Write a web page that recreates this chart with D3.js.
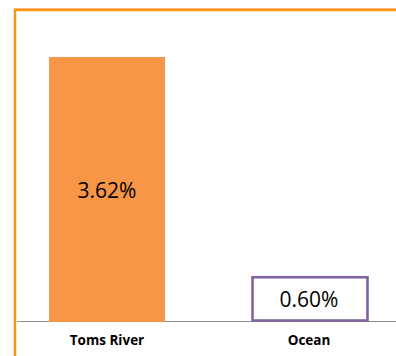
<!DOCTYPE html>
<html>
<head>
<meta charset="utf-8">
<script src="https://cdn.jsdelivr.net/npm/d3@7"></script>
<style>
  html, body { margin: 0; padding: 0; background: #fff; }
  svg { display: block; }
</style>
</head>
<body>
<svg id="chart" width="396" height="356"></svg>
<script>
// Share of households, by area
const categories = ["Toms River", "Ocean"];
const values = [3.62, 0.60];
const valueLabels = ["3.62%", "0.60%"];

const svg = d3.select("#chart");
const W = 396, H = 356;
const baseY = 321, topY = 57;

// Orange frame along the top and left edges
svg.append("line").attr("x1", 14).attr("x2", W).attr("y1", 8.5).attr("y2", 8.5)
  .attr("stroke", "#fbc48a").attr("stroke-width", 1);
svg.append("path")
  .attr("d", `M15,${H} V10 H${W}`)
  .attr("fill", "none").attr("stroke", "#f7941e").attr("stroke-width", 2.5);

const x = d3.scaleBand()
  .domain(categories)
  .range([6, 410])
  .paddingInner(0.426)
  .paddingOuter(0.213);

const y = d3.scaleLinear().domain([0, values[0]]).range([baseY, topY]);

// Baseline
svg.append("line").attr("x1", 17).attr("x2", W).attr("y1", baseY + 0.5).attr("y2", baseY + 0.5)
  .attr("stroke", "#8c8c8c").attr("stroke-width", 1);

const data = categories.map((c, i) => ({ c, v: values[i], label: valueLabels[i], i }));

// Toms River: filled bar; Ocean: outlined box
svg.selectAll("rect.bar").data(data).join("rect")
  .attr("class", "bar")
  .attr("x", d => x(d.c) + (d.i === 1 ? 1.5 : 0))
  .attr("width", d => x.bandwidth() - (d.i === 1 ? 1 : 0))
  .attr("y", d => y(d.v))
  .attr("height", d => baseY + 1 - y(d.v) - (d.i === 1 ? 1.5 : 0))
  .attr("fill", d => d.i === 0 ? "#f79646" : "#fff")
  .attr("stroke", d => d.i === 1 ? "#8064a2" : "none")
  .attr("stroke-width", d => d.i === 1 ? 2.6 : 0);

// Value labels
svg.selectAll("text.val").data(data).join("text")
  .attr("class", "val")
  .attr("x", d => x(d.c) + x.bandwidth() / 2)
  .attr("y", d => d.i === 0 ? 197.5 : 306.5)
  .attr("text-anchor", "middle")
  .attr("font-family", "'Open Sans', sans-serif")
  .attr("font-size", 21)
  .attr("fill", "#000")
  .text(d => d.label);

// Category labels
svg.selectAll("text.cat").data(data).join("text")
  .attr("class", "cat")
  .attr("x", d => x(d.c) + x.bandwidth() / 2)
  .attr("y", 345)
  .attr("text-anchor", "middle")
  .attr("font-family", "'Open Sans', sans-serif")
  .attr("font-weight", "bold")
  .attr("font-size", 13.5)
  .attr("fill", "#000")
  .text(d => d.c);
</script>
</body>
</html>
